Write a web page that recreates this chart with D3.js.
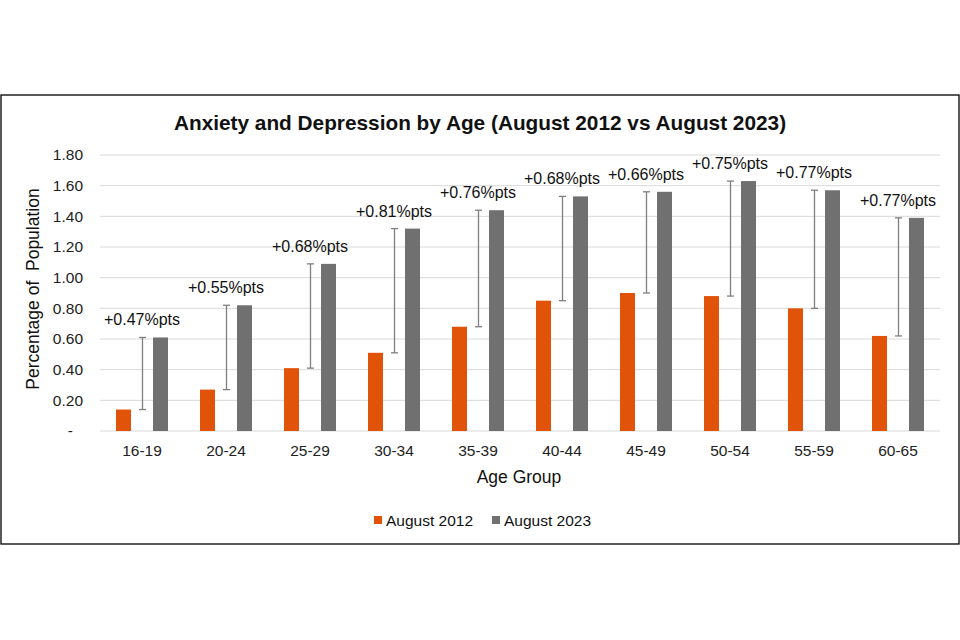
<!DOCTYPE html>
<html>
<head>
<meta charset="utf-8">
<script src="https://cdn.jsdelivr.net/npm/d3@7"></script>
<style>
  html, body { margin: 0; padding: 0; background: #fff; }
  svg { display: block; font-family: "Liberation Sans", Arial, sans-serif; }
</style>
</head>
<body>
<svg id="chart" width="960" height="640"></svg>
<script>
const categories = ["16-19", "20-24", "25-29", "30-34", "35-39", "40-44", "45-49", "50-54", "55-59", "60-65"];
const series = ["August 2012", "August 2023"];
const values2012 = [0.14, 0.27, 0.41, 0.51, 0.68, 0.85, 0.90, 0.88, 0.80, 0.62];
const values2023 = [0.61, 0.82, 1.09, 1.32, 1.44, 1.53, 1.56, 1.63, 1.57, 1.39];
const changeLabels = ["+0.47%pts", "+0.55%pts", "+0.68%pts", "+0.81%pts", "+0.76%pts", "+0.68%pts", "+0.66%pts", "+0.75%pts", "+0.77%pts", "+0.77%pts"];
const yTicks = [0, 0.2, 0.4, 0.6, 0.8, 1.0, 1.2, 1.4, 1.6, 1.8];
const colors = ["#E2530A", "#707070"];

const svg = d3.select("#chart");

// outer border
svg.append("rect")
  .attr("x", 1).attr("y", 95).attr("width", 958).attr("height", 449)
  .attr("fill", "#fff").attr("stroke", "#000").attr("stroke-width", 1.3);

const plot = { left: 100, right: 940, top: 155, bottom: 431 };

const x = d3.scaleBand().domain(categories).range([plot.left, plot.right]);
const xs = d3.scalePoint().domain(series).range([-18.5, 18.5]);
const y = d3.scaleLinear().domain([0, 1.8]).range([plot.bottom, plot.top]);
const barW = 15;

// gridlines
svg.append("g").selectAll("line").data(yTicks).join("line")
  .attr("x1", plot.left).attr("x2", plot.right)
  .attr("y1", d => y(d)).attr("y2", d => y(d))
  .attr("stroke", "#d9d9d9").attr("stroke-width", 1);

// y axis labels
const yAxis = d3.axisLeft(y).tickValues(yTicks).tickSize(0).tickPadding(0)
  .tickFormat(d => d === 0 ? "-" : d3.format(".2f")(d));
const gy = svg.append("g").attr("transform", `translate(${plot.left - 17},0)`).call(yAxis);
gy.select(".domain").remove();
gy.selectAll("text").attr("font-size", 15.5).attr("fill", "#222")
  .attr("font-family", "Liberation Sans, Arial, sans-serif");
gy.selectAll(".tick").filter(d => d === 0).select("text").attr("dx", -10);

// x axis labels
const xAxis = d3.axisBottom(x).tickSize(0).tickPadding(0);
const gx = svg.append("g").attr("transform", `translate(0,${plot.bottom + 14})`).call(xAxis);
gx.select(".domain").remove();
gx.selectAll("text").attr("font-size", 15.5).attr("fill", "#222")
  .attr("font-family", "Liberation Sans, Arial, sans-serif");

// bars
const allValues = [values2012, values2023];
series.forEach((s, si) => {
  svg.append("g").selectAll("rect").data(categories).join("rect")
    .attr("x", c => x(c) + x.bandwidth() / 2 + xs(s) - barW / 2)
    .attr("width", barW)
    .attr("y", (c, i) => y(allValues[si][i]))
    .attr("height", (c, i) => y(0) - y(allValues[si][i]))
    .attr("fill", colors[si]);
});

// error-bar style change markers
const eg = svg.append("g").attr("stroke", "#7f7f7f").attr("stroke-width", 1.3);
categories.forEach((c, i) => {
  const cx = x(c) + x.bandwidth() / 2 + 0.5;
  const y1 = y(values2012[i]), y2 = y(values2023[i]);
  eg.append("line").attr("x1", cx).attr("x2", cx).attr("y1", y1).attr("y2", y2);
  eg.append("line").attr("x1", cx - 3.5).attr("x2", cx + 3.5).attr("y1", y1).attr("y2", y1);
  eg.append("line").attr("x1", cx - 3.5).attr("x2", cx + 3.5).attr("y1", y2).attr("y2", y2);
});

// change labels
svg.append("g").selectAll("text").data(categories).join("text")
  .attr("x", c => x(c) + x.bandwidth() / 2)
  .attr("y", (c, i) => y(values2023[i]) - 12)
  .attr("text-anchor", "middle")
  .attr("font-size", 16).attr("fill", "#111")
  .text((c, i) => changeLabels[i]);

// title
svg.append("text").attr("x", 480).attr("y", 130).attr("text-anchor", "middle")
  .attr("font-size", 20.8).attr("font-weight", "bold").attr("fill", "#111")
  .text("Anxiety and Depression by Age (August 2012 vs August 2023)");

// axis titles
svg.append("text").attr("x", 519).attr("y", 483).attr("text-anchor", "middle")
  .attr("font-size", 17.5).attr("fill", "#111").text("Age Group");

svg.append("text")
  .attr("transform", "translate(39,289) rotate(-90)")
  .attr("text-anchor", "middle")
  .attr("font-size", 17.5).attr("fill", "#111")
  .style("white-space", "pre")
  .text("Percentage of  Population");

// legend
const legendX = [374, 492];
const lg = svg.append("g");
series.forEach((s, si) => {
  lg.append("rect").attr("x", legendX[si]).attr("y", 516).attr("width", 8).attr("height", 8)
    .attr("fill", colors[si]);
  lg.append("text").attr("x", legendX[si] + 12).attr("y", 525.5)
    .attr("font-size", 15.5).attr("fill", "#111").text(s);
});
</script>
</body>
</html>
